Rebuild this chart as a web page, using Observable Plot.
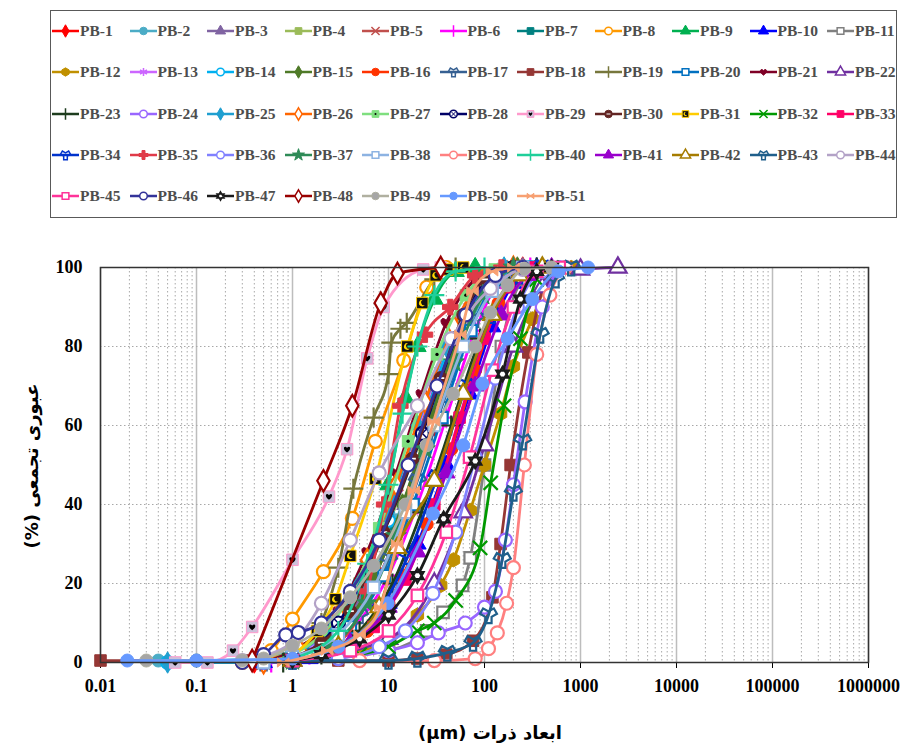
<!DOCTYPE html>
<html><head><meta charset="utf-8">
<script src="https://cdn.jsdelivr.net/npm/d3@7"></script>
<script src="https://cdn.jsdelivr.net/npm/@observablehq/plot@0.6"></script>
<style>
body{margin:0;background:#fff;width:908px;height:746px;position:relative;overflow:hidden;font-family:"Liberation Serif",serif;}
#legend{position:absolute;left:50px;top:10px;width:847px;height:208px;border:1.5px solid #595959;box-sizing:border-box;}
.item{position:absolute;display:flex;align-items:center;height:18px;font-weight:bold;font-size:15.5px;color:#4d4d4d;white-space:nowrap;}
.item svg{display:block;margin-right:1px;}
#chart{position:absolute;left:0;top:225px;}
#ytitle{position:absolute;left:31px;top:466px;transform:translate(-50%,-50%) rotate(-90deg);direction:rtl;font-family:"DejaVu Sans",sans-serif;font-weight:bold;font-size:18px;white-space:nowrap;}
#xtitle{position:absolute;left:490px;top:732px;transform:translate(-50%,-50%);direction:rtl;font-family:"DejaVu Sans",sans-serif;font-weight:bold;font-size:18px;white-space:nowrap;}
</style>
</head><body>
<div id="legend"></div>
<div id="chart"></div>
<div id="ytitle">عبوری تجمعی (%)</div>
<div id="xtitle">ابعاد ذرات (μm)</div>
<script>
// ---- data: [particle size (µm), cumulative passing (%)] ----
const pb1 = [[0.4,0],[1,1.5],[2,5],[4,11],[8,22],[15,38],[30,60],[60,82],[120,96],[250,100]];
const pb2 = [[0.04,0.5],[0.1,0.5],[0.5,1],[1,3],[3,10],[6,20],[12,36],[25,56],[50,77],[100,93],[200,99.5],[400,100]];
const pb3 = [[0.5,0],[1,2],[3,9],[7,22],[15,40],[30,62],[60,83],[120,96],[250,100]];
const pb4 = [[0.5,0.5],[1,3],[2.5,10],[5,20],[10,35],[20,55],[40,76],[80,92],[160,99],[300,100]];
const pb5 = [[0.5,0],[1,2.5],[3,11],[6,24],[12,42],[25,64],[50,84],[100,96],[200,100]];
const pb6 = [[0.6,0],[1.5,2],[4,8],[10,22],[20,40],[40,62],[80,84],[150,97],[300,100]];
const pb7 = [[0.5,0.5],[1,2],[3,8],[6,18],[12,35],[24,57],[48,80],[96,95],[200,100]];
const pb8 = [[0.3,0],[0.6,3],[1,11],[2.1,23],[4.2,36.5],[7.3,56],[14.4,76.5],[25,95],[40,100]];
const pb9 = [[1,1],[3,6],[6,20],[10,45],[15,67],[20,80],[30,92],[50,99],[80,100]];
const pb10 = [[0.5,0],[1.5,1],[4,5],[10,15],[20,30],[40,50],[70,68],[120,85],[200,96],[350,100]];
const pb11 = [[1,0.5],[10,3],[25,8],[37,12.7],[59,19.5],[71,26.5],[100,50],[150,80],[250,97],[400,100]];
const pb12 = [[1,0.5],[10,5],[20,12],[35,19.5],[47.5,26],[71,38.5],[100,50],[147,63],[200,75],[315,87],[500,98],[800,100]];
const pb13 = [[0.5,0],[1,2],[3,10],[6,24],[12,44],[25,66],[50,86],[100,97],[200,100]];
const pb14 = [[0.05,0],[0.5,0],[1,2],[2,7],[5,20],[10,36],[20,56],[40,78],[80,93],[160,99.5],[300,100]];
const pb15 = [[0.5,0],[1,1.5],[3,8],[7,21],[14,40],[28,62],[55,83],[110,96],[220,100]];
const pb16 = [[1,0.5],[3,3],[6,8],[10,15],[14,22],[25,35],[45,54],[80,74],[140,91],[250,99],[400,100]];
const pb17 = [[0.5,0],[2,3],[5,12],[10,26],[20,46],[40,68],[80,87],[160,98],[300,100]];
const pb18 = [[0.01,0.5],[0.3,0.5],[1,0.5],[3,0.5],[10,0.5],[20,1],[40,2],[76,5.5],[121,16.5],[147,30],[187,50],[286,78.5],[450,97],[700,100]];
const pb19 = [[1,1],[2,10],[3,24],[4.3,44],[7,62],[10,73],[10.7,81],[13.3,84.5],[15.5,86],[30,97],[50,100]];
const pb20 = [[0.5,0],[1.5,2],[4,9],[9,22],[18,40],[36,62],[72,84],[140,97],[280,100]];
const pb21 = [[0.5,0],[1,3],[3,13],[6,28],[12,48],[22,68],[40,86],[80,97],[150,100]];
const pb22 = [[1,0.5],[10,6],[30,20],[60,38],[100,55],[200,80],[400,95],[1000,99.5],[2450,100]];
const pb23 = [[0.8,0],[2,2],[5,8],[11,20],[22,38],[45,60],[90,82],[180,96],[350,100]];
const pb24 = [[1,0.5],[10,3],[20,5],[33,7.5],[63,10],[100,14],[130,18],[165,31],[200,45],[265,66],[400,90],[600,100]];
const pb25 = [[0.05,0],[0.5,0],[1,2],[2.5,9],[5,20],[10,38],[20,60],[40,80],[80,94],[160,100]];
const pb26 = [[0.5,0],[1.2,3],[3,12],[6,26],[12,45],[24,66],[48,85],[96,97],[200,100]];
const pb27 = [[0.5,0],[1,2],[2,7],[4,17],[8,34],[16,56],[32,78],[64,93],[128,99.5],[250,100]];
const pb28 = [[0.5,0],[1,1],[3,10],[8.2,31],[22.5,58],[50,82],[100,96],[200,100]];
const pb29 = [[0.06,0],[0.13,0],[0.24,3],[0.38,9],[1,26],[2.4,42],[3.7,54],[6,77],[8.9,90],[23,99.5],[35,100]];
const pb30 = [[0.5,0.5],[1,1.5],[2,5],[4,13],[8.9,33],[17.7,51.6],[35,72],[60,88],[100,97],[200,100]];
const pb31 = [[0.5,0],[1,2],[1.8,8],[2.8,16],[4,27],[7.3,46.5],[15.7,80],[22.5,91],[31,98],[41,99.5],[60,100]];
const pb32 = [[1,0.5],[5,2],[10,4],[20,8],[30,10],[50,15.7],[90,29],[116,45.5],[160,65],[237,82],[350,97],[500,100]];
const pb33 = [[1,0.5],[3,3],[7,9],[15,21],[30,40],[55,62],[100,82],[180,95],[330,100]];
const pb34 = [[1,0.5],[3,4],[8,13],[16,27],[32,47],[64,70],[120,88],[230,98],[400,100]];
const pb35 = [[1,0.5],[3,5],[6,18],[9,40],[13.3,65],[24,83],[44,90],[80,98],[150,100]];
const pb36 = [[0.5,0],[3,1],[8,4],[15,8],[29,17.5],[50,33],[80,52],[130,72],[220,90],[400,99],[700,100]];
const pb37 = [[1,0.5],[2.5,4],[6,15],[12,32],[24,54],[48,76],[96,93],[200,100]];
const pb38 = [[0.5,0],[1,1.5],[3,7],[7,19],[15,38],[30,60],[60,80],[120,94],[250,100]];
const pb39 = [[5,0.5],[30,0.5],[80,1],[110,3.5],[136,7.5],[170,15],[200,24],[260,50],[350,78],[480,93],[700,100]];
const pb40 = [[1,1],[3,8],[6,25],[10,45],[14,63],[20,80],[30,93],[50,99],[100,100]];
const pb41 = [[1,0.5],[4,5],[10,14],[20,28],[40,48],[80,70],[150,88],[280,98],[500,100]];
const pb42 = [[1,0.5],[3,4],[8,14],[12.3,29],[30,46],[60,68],[120,88],[230,98],[400,100]];
const pb43 = [[1,0.5],[10,0.5],[20,1],[41,2.5],[76,5],[110,12],[153,26],[200,43],[250,56],[380,83],[550,97],[800,100]];
const pb44 = [[0.3,0.5],[1,5],[2,15],[4,31],[8,48],[20,65],[45,82],[115,94.7],[250,99.5],[500,100]];
const pb45 = [[1,0.5],[4,3],[10,8],[20,17],[40,33],[70,52],[120,74],[200,90],[350,99],[600,100]];
const pb46 = [[0.3,0],[0.5,2],[0.85,7],[1.15,7.6],[2,10],[4,18],[8,31],[16,50],[32,70],[64,88],[130,98],[250,100]];
const pb47 = [[1,0.5],[2,2],[5,6],[10,12],[20,22],[37.5,36.4],[80,51],[154,73],[237,92],[350,99],[500,100]];
const pb48 = [[0.38,0.5],[2.1,46],[4.2,65],[8.3,91],[12.4,98.5],[35,100]];
const pb49 = [[0.03,0.5],[0.1,0.5],[0.3,0.5],[0.5,1],[1,4.3],[2,8.6],[4,16.5],[7,24.5],[15,40],[25,55],[47,68],[80,80],[115,88.6],[174,95.5],[260,99.7],[500,100]];
const pb50 = [[0.019,0.5],[0.1,0.5],[1,1],[3,4],[9.8,15],[29,37.7],[60,55],[95,70.6],[174,82],[315,92],[590,99],[1200,100]];
const pb51 = [[0.8,0],[2.3,3],[5,7],[8.2,14],[12.3,30],[18.3,43.5],[29.5,61],[56,83],[75,94],[120,99],[200,100]];

const seriesData = [pb1,pb2,pb3,pb4,pb5,pb6,pb7,pb8,pb9,pb10,pb11,pb12,pb13,pb14,pb15,pb16,pb17,pb18,pb19,pb20,
  pb21,pb22,pb23,pb24,pb25,pb26,pb27,pb28,pb29,pb30,pb31,pb32,pb33,pb34,pb35,pb36,pb37,pb38,pb39,pb40,
  pb41,pb42,pb43,pb44,pb45,pb46,pb47,pb48,pb49,pb50,pb51];
const names = seriesData.map((_, i) => "PB-" + (i + 1));

const colors = ["#ff0000","#4bacc6","#8064a2","#9bbb59","#c0504d","#ff00ff","#008080","#ff9900","#00b050","#0000ff",
  "#808080","#c09000","#cc66ff","#00b0f0","#4f7a28","#ff3300","#366092","#953735","#77773c","#0070c0",
  "#7f0026","#7030a0","#1e3d1e","#9966ff","#1f9fd0","#ff6600","#7fdf7f","#000066","#ff99cc","#632523",
  "#ffcc00","#009900","#ff0066","#0033cc","#e03a48","#8080ff","#2e8b57","#8db3e2","#ff8080","#1fcf9a",
  "#9900cc","#a67c00","#1f5f8b","#b3a2c7","#ff3399","#333399","#1a1a1a","#990000","#b0b0a0","#6699ff","#f7a072"];
const symbolNames = ["diamond","circle","triangle","square","times","plus","square","circle","triangle","triangle",
  "square","hexagon","asterisk","circle","diamond","circle","wye","square","plus","square",
  "heart","triangle","plus","circle","diamond","diamond","square","circle","square","circle",
  "square","times","square","wye","cross","circle","star","square","circle","plus",
  "triangle","triangle","wye","circle","square","circle","hexagram","diamond","circle","circle","bowtie"];
// f = filled, h = hollow (white inside), s = stroke only
const markerKinds = ["f","f","f","f","s","s","f","h","f","f",
  "h","f","s","h","f","f","s","f","s","h",
  "f","h","s","h","f","h","f","h","f","f",
  "f","s","f","s","f","h","f","h","h","s",
  "f","h","s","h","h","h","h","h","f","f","f"];
const markerFillOverride = {28:"#ccc0da", 30:"#111111", 48:"#a6a6a6"};
const overlays = {26:["dot","#000000"], 27:["times","#000066"], 28:["heart","#000000"], 29:["minus","#ffffff"], 30:["moon","#ffd700"]};

// ---- symbols ----
const sym = {
  circle: d3.symbolCircle, diamond: d3.symbolDiamond, square: d3.symbolSquare, triangle: d3.symbolTriangle,
  times: d3.symbolTimes, plus: d3.symbolPlus, asterisk: d3.symbolAsterisk, wye: d3.symbolWye,
  star: d3.symbolStar, cross: d3.symbolCross,
  hexagon: {draw(c, s) { const r = Math.sqrt(s / (1.5 * Math.sqrt(3))); for (let k = 0; k < 6; k++) { const a = Math.PI / 3 * k + Math.PI / 6; const x = r * Math.cos(a), y = r * Math.sin(a); k ? c.lineTo(x, y) : c.moveTo(x, y); } c.closePath(); }},
  heart: {draw(c, s) { const r = Math.sqrt(s) / 2; c.moveTo(0, r * 0.95); c.bezierCurveTo(-r * 1.6, -r * 0.1, -r * 0.8, -r * 1.35, 0, -r * 0.4); c.bezierCurveTo(r * 0.8, -r * 1.35, r * 1.6, -r * 0.1, 0, r * 0.95); c.closePath(); }},
  moon: {draw(c, s) { const r = Math.sqrt(s) / 2; c.moveTo(r * 0.805, r * 0.594); c.arc(0, 0, r, 0.636, 4.886, false); c.arc(0.5 * r, -0.2 * r, 0.85 * r, 4.318, 1.204, true); c.closePath(); }},
  hexagram: {draw(c, s) { const r = Math.sqrt(s) * 0.62; for (const off of [-Math.PI / 2, Math.PI / 2]) { for (let k = 0; k < 3; k++) { const a = off + k * 2 * Math.PI / 3; const x = r * Math.cos(a), y = r * Math.sin(a); k ? c.lineTo(x, y) : c.moveTo(x, y); } c.closePath(); } }},
  bowtie: {draw(c, s) { const r = Math.sqrt(s) / 2; c.moveTo(-r, -r * 0.8); c.lineTo(r, r * 0.8); c.lineTo(r, -r * 0.8); c.lineTo(-r, r * 0.8); c.closePath(); }},
  minus: {draw(c, s) { const r = Math.sqrt(s) / 2; c.rect(-r, -r * 0.25, 2 * r, r * 0.5); }},
  dot: {draw(c, s) { const r = Math.sqrt(s) / 4; c.moveTo(r, 0); c.arc(0, 0, r, 0, 2 * Math.PI); }}
};

function markerStyle(i) {
  const k = markerKinds[i], col = colors[i];
  let fill = k === "f" ? col : k === "h" ? "#ffffff" : "none";
  if (markerFillOverride[i]) fill = markerFillOverride[i];
  return {fill, stroke: col, strokeWidth: k === "f" ? 1 : 2.2};
}

// ---- legend ----
const legend = document.getElementById("legend");
const rowTops = [11, 52, 94, 135, 176];
names.forEach((name, i) => {
  const row = Math.floor(i / 11), col = i % 11;
  const div = document.createElement("div");
  div.className = "item";
  div.style.left = (1 + col * 77.5) + "px";
  div.style.top = rowTops[row] + "px";
  const st = markerStyle(i);
  const svg = d3.create("svg").attr("width", 27).attr("height", 16);
  svg.append("line").attr("x1", 0).attr("x2", 27).attr("y1", 8).attr("y2", 8).attr("stroke", colors[i]).attr("stroke-width", 2.5);
  svg.append("path").attr("transform", "translate(13.5,8)").attr("d", d3.symbol(sym[symbolNames[i]], 45)())
    .attr("fill", st.fill).attr("stroke", st.stroke).attr("stroke-width", st.strokeWidth > 1 ? 1.5 : 1);
  if (overlays[i]) svg.append("path").attr("transform", "translate(13.5,8)").attr("d", d3.symbol(sym[overlays[i][0]], 16)())
    .attr("fill", overlays[i][0] === "times" ? "none" : overlays[i][1]).attr("stroke", overlays[i][0] === "times" ? overlays[i][1] : "none");
  div.appendChild(svg.node());
  const span = document.createElement("span");
  span.textContent = name;
  div.appendChild(span);
  legend.appendChild(div);
});

// ---- chart ----
const majorTicks = [0.01, 0.1, 1, 10, 100, 1000, 10000, 100000, 1000000];
const minorTicks = [];
majorTicks.slice(0, -1).forEach(t => { for (let m = 2; m <= 9; m++) minorTicks.push(t * m); });
const yTicks = [0, 20, 40, 60, 80, 100];

const marks = [
  Plot.ruleX(minorTicks, {stroke: "#a8a8a8", strokeWidth: 1, strokeDasharray: "1.5,2.5"}),
  Plot.ruleX(majorTicks, {stroke: "#bdbdbd", strokeWidth: 1.5}),
  Plot.ruleY([20, 40, 60, 80], {stroke: "#a8a8a8", strokeWidth: 1, strokeDasharray: "1.5,2.5"}),
  Plot.axisX({ticks: majorTicks, tickFormat: d => String(d), tickSize: 6, tickPadding: 11, label: null}),
  Plot.axisY({ticks: yTicks, tickSize: 0, tickPadding: 18, label: null})
];
seriesData.forEach((pts, i) => {
  marks.push(Plot.line(pts, {x: d => d[0], y: d => d[1], stroke: colors[i], strokeWidth: 2.8, curve: "monotone-x"}));
  const st = markerStyle(i);
  marks.push(Plot.dot(pts, {x: d => d[0], y: d => d[1], symbol: sym[symbolNames[i]], r: 6.5, fill: st.fill, stroke: st.stroke, strokeWidth: st.strokeWidth}));
  if (overlays[i]) {
    const [o, c] = overlays[i];
    marks.push(Plot.dot(pts, {x: d => d[0], y: d => d[1], symbol: sym[o], r: o === "minus" ? 4 : 3.8,
      fill: o === "times" ? "none" : c, stroke: o === "times" ? c : "none", strokeWidth: 1.5}));
  }
});
marks.push(Plot.frame({stroke: "#333333", strokeWidth: 1.5}));

const chart = Plot.plot({
  width: 908, height: 521,
  marginLeft: 100, marginRight: 40, marginTop: 42, marginBottom: 84,
  x: {type: "log", domain: [0.01, 1000000]},
  y: {domain: [0, 100]},
  style: {fontFamily: "'Liberation Serif', serif", fontSize: "18px", fontWeight: "bold", color: "#000", background: "#fff"},
  marks
});
document.getElementById("chart").appendChild(chart);
</script>
</body></html>
